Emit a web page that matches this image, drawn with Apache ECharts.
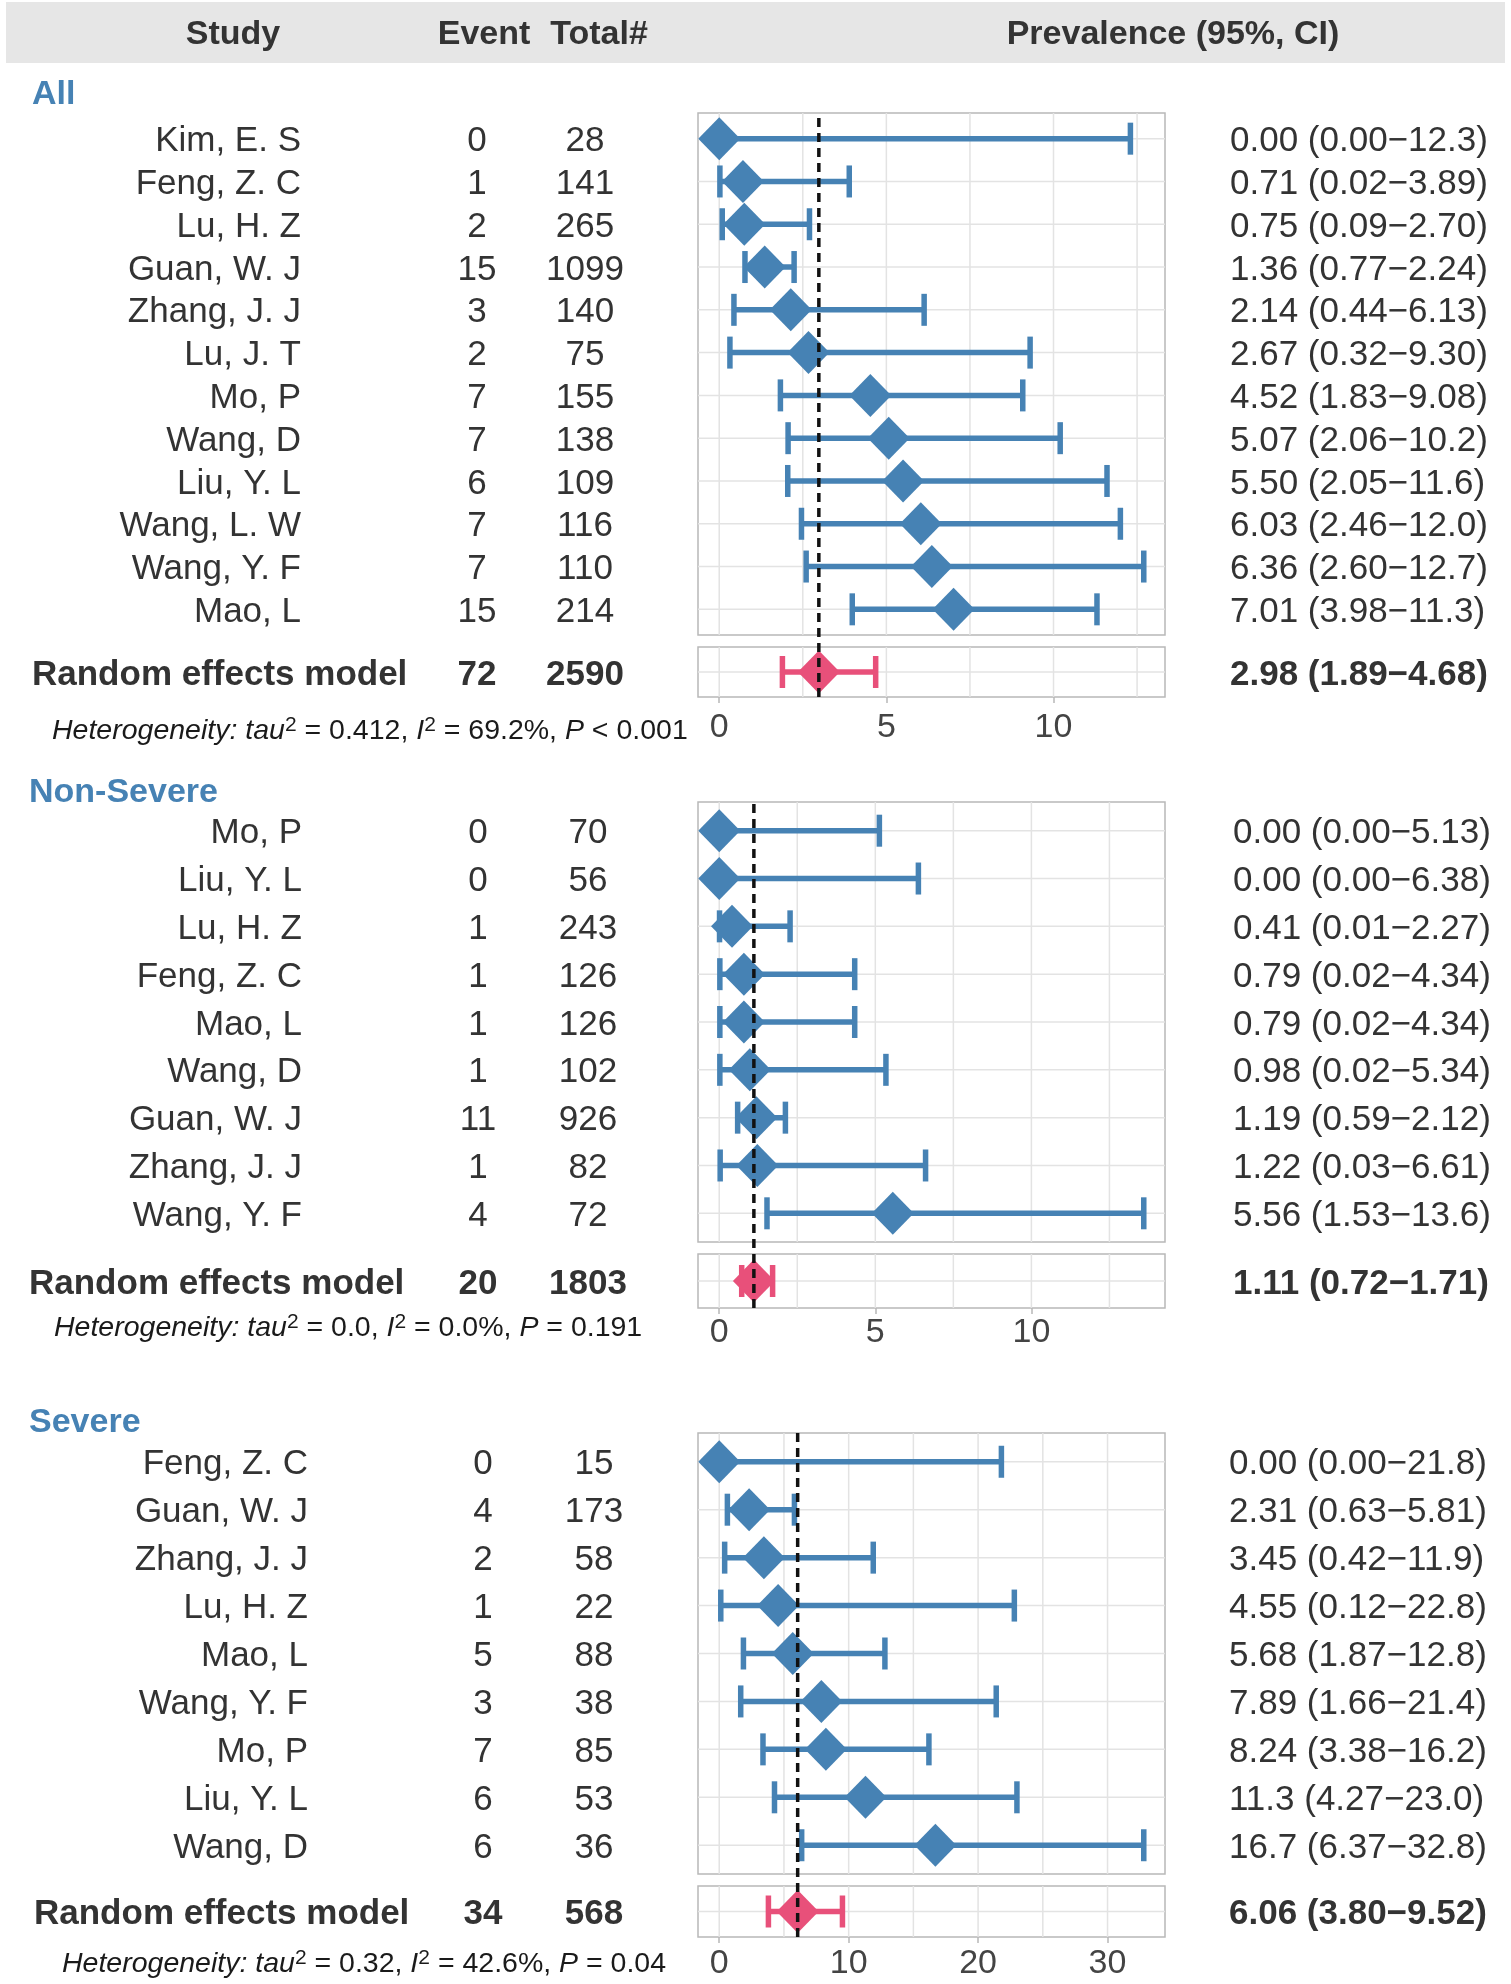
<!DOCTYPE html>
<html><head><meta charset="utf-8">
<script src="https://cdn.jsdelivr.net/npm/echarts@6/dist/echarts.min.js"></script>
<style>html,body{margin:0;padding:0;background:#fff}#c{width:1511px;height:1984px}</style>
</head><body><div id="c"></div>
<script>
// ---------------- DATA ----------------
const headers = ['Study', 'Event', 'Total#', 'Prevalence (95%, CI)'];
const groupNames = ['All', 'Non-Severe', 'Severe'];

const allStudies = ['Kim, E. S','Feng, Z. C','Lu, H. Z','Guan, W. J','Zhang, J. J','Lu, J. T','Mo, P','Wang, D','Liu, Y. L','Wang, L. W','Wang, Y. F','Mao, L'];
const allEvents  = [0,1,2,15,3,2,7,7,6,7,7,15];
const allTotals  = [28,141,265,1099,140,75,155,138,109,116,110,214];
const allPrev    = [0.00,0.71,0.75,1.36,2.14,2.67,4.52,5.07,5.50,6.03,6.36,7.01];
const allLower   = [0.00,0.02,0.09,0.77,0.44,0.32,1.83,2.06,2.05,2.46,2.60,3.98];
const allUpper   = [12.3,3.89,2.70,2.24,6.13,9.30,9.08,10.2,11.6,12.0,12.7,11.3];
const allPooled  = [2.98, 1.89, 4.68];
const allPooledN = [72, 2590];
const allHet     = ['0.412', '69.2%', '< 0.001'];
const allTicks   = [0, 5, 10];
const allGridX   = [0, 2.5, 5, 7.5, 10, 12.5];

const nsStudies = ['Mo, P','Liu, Y. L','Lu, H. Z','Feng, Z. C','Mao, L','Wang, D','Guan, W. J','Zhang, J. J','Wang, Y. F'];
const nsEvents  = [0,0,1,1,1,1,11,1,4];
const nsTotals  = [70,56,243,126,126,102,926,82,72];
const nsPrev    = [0.00,0.00,0.41,0.79,0.79,0.98,1.19,1.22,5.56];
const nsLower   = [0.00,0.00,0.01,0.02,0.02,0.02,0.59,0.03,1.53];
const nsUpper   = [5.13,6.38,2.27,4.34,4.34,5.34,2.12,6.61,13.6];
const nsPooled  = [1.11, 0.72, 1.71];
const nsPooledN = [20, 1803];
const nsHet     = ['0.0', '0.0%', '= 0.191'];
const nsTicks   = [0, 5, 10];
const nsGridX   = [0, 2.5, 5, 7.5, 10, 12.5];

const sevStudies = ['Feng, Z. C','Guan, W. J','Zhang, J. J','Lu, H. Z','Mao, L','Wang, Y. F','Mo, P','Liu, Y. L','Wang, D'];
const sevEvents  = [0,4,2,1,5,3,7,6,6];
const sevTotals  = [15,173,58,22,88,38,85,53,36];
const sevPrev    = [0.00,2.31,3.45,4.55,5.68,7.89,8.24,11.3,16.7];
const sevLower   = [0.00,0.63,0.42,0.12,1.87,1.66,3.38,4.27,6.37];
const sevUpper   = [21.8,5.81,11.9,22.8,12.8,21.4,16.2,23.0,32.8];
const sevPooled  = [6.06, 3.80, 9.52];
const sevPooledN = [34, 568];
const sevHet     = ['0.32', '42.6%', '= 0.04'];
const sevTicks   = [0, 10, 20, 30];
const sevGridX   = [0, 5, 10, 15, 20, 25, 30];

const groups = [
  {name: groupNames[0], studies: allStudies, events: allEvents, totals: allTotals, prev: allPrev, lower: allLower, upper: allUpper, pooled: allPooled, pooledN: allPooledN, het: allHet, ticks: allTicks, gridX: allGridX},
  {name: groupNames[1], studies: nsStudies, events: nsEvents, totals: nsTotals, prev: nsPrev, lower: nsLower, upper: nsUpper, pooled: nsPooled, pooledN: nsPooledN, het: nsHet, ticks: nsTicks, gridX: nsGridX},
  {name: groupNames[2], studies: sevStudies, events: sevEvents, totals: sevTotals, prev: sevPrev, lower: sevLower, upper: sevUpper, pooled: sevPooled, pooledN: sevPooledN, het: sevHet, ticks: sevTicks, gridX: sevGridX}
];

// ---------------- LAYOUT / STYLE ----------------
const FONT = '"Liberation Sans", Arial, Helvetica, sans-serif';
const BLUE = '#4682B4';
const PINK = '#E8507A';
const TXT = '#333333';
const TEXT_DY = 3;
const layouts = [
  {top:113, height:522, sumTop:647, sumHeight:50, nameRight:301, eventX:477, totalX:585, reLeft:32, prevLeft:1230, labelLeft:32, labelY:95, hetLeft:52, hetY:731, tickMargin:14},
  {top:802, height:440, sumTop:1254, sumHeight:54, nameRight:302, eventX:478, totalX:588, reLeft:29, prevLeft:1233, labelLeft:29, labelY:793, hetLeft:54, hetY:1328, tickMargin:8},
  {top:1433, height:441, sumTop:1886, sumHeight:51, nameRight:308, eventX:483, totalX:594, reLeft:34, prevLeft:1229, labelLeft:29, labelY:1423, hetLeft:62, hetY:1964, tickMargin:10}
];
const PANEL_LEFT = 698, PANEL_W = 467;

function fmt(v) { return v >= 10 ? v.toFixed(1) : v.toFixed(2); }
function ciText(p, l, u) { return fmt(p) + ' (' + fmt(l) + '\u2212' + fmt(u) + ')'; }

function errRender(color, cap, lw) {
  return function (params, api) {
    const a = api.coord([api.value(0), api.value(2)]);
    const b = api.coord([api.value(1), api.value(2)]);
    const st = {stroke: color, lineWidth: lw};
    return {type: 'group', children: [
      {type: 'line', shape: {x1: a[0], y1: a[1], x2: b[0], y2: b[1]}, style: st},
      {type: 'line', shape: {x1: a[0], y1: a[1] - cap / 2, x2: a[0], y2: a[1] + cap / 2}, style: st},
      {type: 'line', shape: {x1: b[0], y1: b[1] - cap / 2, x2: b[0], y2: b[1] + cap / 2}, style: st}
    ]};
  };
}
function vGridRender(params, api) {
  const cs = params.coordSys;
  const p = api.coord([api.value(0), api.value(1)]);
  return {type: 'line', shape: {x1: p[0], y1: cs.y, x2: p[0], y2: cs.y + cs.height}, style: {stroke: '#E3E3E3', lineWidth: 1.5}};
}
function hGridRender(params, api) {
  const cs = params.coordSys;
  const p = api.coord([api.value(0), api.value(1)]);
  return {type: 'line', shape: {x1: cs.x, y1: p[1], x2: cs.x + cs.width, y2: p[1]}, style: {stroke: '#E3E3E3', lineWidth: 1.5}};
}

const grid = [], xAxis = [], yAxis = [], series = [];
groups.forEach((g, gi) => {
  const L = layouts[gi];
  const n = g.studies.length;
  const dmax = Math.max.apply(null, g.upper), dmin = Math.min.apply(null, g.lower);
  const span = dmax - dmin;
  const xmin = dmin - 0.05 * span, xmax = dmax + 0.05 * span;
  const p = gi * 3, s = gi * 3 + 1, o = gi * 3 + 2;
  grid.push({left: PANEL_LEFT, width: PANEL_W, top: L.top, height: L.height, show: true, borderColor: '#B8B8B8', borderWidth: 1.5, backgroundColor: 'transparent'});
  grid.push({left: PANEL_LEFT, width: PANEL_W, top: L.sumTop, height: L.sumHeight, show: true, borderColor: '#B8B8B8', borderWidth: 1.5, backgroundColor: 'transparent'});
  grid.push({left: PANEL_LEFT, width: PANEL_W, top: L.top, height: L.sumTop + L.sumHeight - L.top, show: false});
  const hiddenX = {type: 'value', min: xmin, max: xmax, show: false};
  xAxis.push(Object.assign({gridIndex: p}, hiddenX));
  xAxis.push({gridIndex: s, type: 'value', min: xmin, max: xmax, show: true,
    axisLine: {show: false},
    axisTick: {show: true, customValues: g.ticks, length: 6, lineStyle: {color: '#B8B8B8', width: 1.5}},
    axisLabel: {show: true, customValues: g.ticks, margin: L.tickMargin, fontSize: 34, fontFamily: FONT, color: '#444'},
    splitLine: {show: false}});
  xAxis.push(Object.assign({gridIndex: o}, hiddenX));
  yAxis.push({gridIndex: p, type: 'value', min: 0.4, max: n + 0.6, inverse: true, show: false});
  yAxis.push({gridIndex: s, type: 'value', min: 0.4, max: 1.6, inverse: true, show: false});
  yAxis.push({gridIndex: o, type: 'value', min: 0, max: 1, show: false});
  const rows = g.studies.map((_, i) => i + 1);
  series.push({type: 'custom', xAxisIndex: p, yAxisIndex: p, renderItem: vGridRender, data: g.gridX.map(v => [v, 1]), silent: true, z: 1});
  series.push({type: 'custom', xAxisIndex: p, yAxisIndex: p, renderItem: hGridRender, data: rows.map(r => [0, r]), silent: true, z: 1});
  series.push({type: 'custom', xAxisIndex: s, yAxisIndex: s, renderItem: vGridRender, data: g.gridX.map(v => [v, 1]), silent: true, z: 1});
  series.push({type: 'custom', xAxisIndex: s, yAxisIndex: s, renderItem: hGridRender, data: [[0, 1]], silent: true, z: 1});
  series.push({type: 'custom', xAxisIndex: p, yAxisIndex: p, renderItem: errRender(BLUE, 32, 5.5),
    encode: {x: [0, 1], y: 2}, data: rows.map((r, i) => [g.lower[i], g.upper[i], r]), silent: true, z: 3});
  series.push({type: 'scatter', xAxisIndex: p, yAxisIndex: p, symbol: 'diamond', symbolSize: [42, 43],
    itemStyle: {color: BLUE, opacity: 1}, data: rows.map((r, i) => [g.prev[i], r]), silent: true, z: 4});
  series.push({type: 'custom', xAxisIndex: s, yAxisIndex: s, renderItem: errRender(PINK, 32, 5.5),
    encode: {x: [0, 1], y: 2}, data: [[g.pooled[1], g.pooled[2], 1]], silent: true, z: 3});
  series.push({type: 'scatter', xAxisIndex: s, yAxisIndex: s, symbol: 'diamond', symbolSize: [42, 43],
    itemStyle: {color: PINK, opacity: 1}, data: [[g.pooled[0], 1]], silent: true, z: 4});
  series.push({type: 'line', xAxisIndex: o, yAxisIndex: o, data: [[g.pooled[0], 0], [g.pooled[0], 1]],
    symbol: 'none', lineStyle: {color: '#111', width: 3.5, type: [9, 6]}, silent: true, z: 6, animation: false});
});

const chart = echarts.init(document.getElementById('c'));
chart.setOption({animation: false, backgroundColor: '#fff', grid, xAxis, yAxis, series});

// ---------------- TEXT TABLE ----------------
function txt(x, y, text, opt) {
  opt = opt || {};
  const align = opt.align || 'left';
  return {type: 'text', x: x, y: y, silent: true, z: 10, style: Object.assign({
    text: text, fill: opt.color || TXT, fontSize: opt.size || 35, fontFamily: FONT,
    fontWeight: opt.weight || 'normal', fontStyle: opt.style || 'normal',
    align: align, textAlign: align, verticalAlign: 'middle', textVerticalAlign: 'middle'
  }, opt.extra || {})};
}
const graphic = [];
graphic.push({type: 'rect', shape: {x: 6, y: 2, width: 1499, height: 61}, style: {fill: '#E6E6E6'}, silent: true, z: 0});
graphic.push(txt(233, 35, headers[0], {align: 'center', weight: 'bold', size: 34}));
graphic.push(txt(484, 35, headers[1], {align: 'center', weight: 'bold', size: 34}));
graphic.push(txt(599, 35, headers[2], {align: 'center', weight: 'bold', size: 34}));
graphic.push(txt(1173, 35, headers[3], {align: 'center', weight: 'bold', size: 34}));

groups.forEach((g, gi) => {
  const L = layouts[gi];
  const p = gi * 3, s = gi * 3 + 1;
  graphic.push(txt(L.labelLeft, L.labelY, g.name, {weight: 'bold', color: BLUE, size: 34}));
  g.studies.forEach((name, i) => {
    const y = chart.convertToPixel({xAxisIndex: p, yAxisIndex: p}, [0, i + 1])[1] + TEXT_DY;
    graphic.push(txt(L.nameRight, y, name, {align: 'right'}));
    graphic.push(txt(L.eventX, y, String(g.events[i]), {align: 'center'}));
    graphic.push(txt(L.totalX, y, String(g.totals[i]), {align: 'center'}));
    graphic.push(txt(L.prevLeft, y, ciText(g.prev[i], g.lower[i], g.upper[i])));
  });
  const ys = chart.convertToPixel({xAxisIndex: s, yAxisIndex: s}, [0, 1])[1] + TEXT_DY;
  graphic.push(txt(L.reLeft, ys, 'Random effects model', {weight: 'bold'}));
  graphic.push(txt(L.eventX, ys, String(g.pooledN[0]), {align: 'center', weight: 'bold'}));
  graphic.push(txt(L.totalX, ys, String(g.pooledN[1]), {align: 'center', weight: 'bold'}));
  graphic.push(txt(L.prevLeft, ys, ciText(g.pooled[0], g.pooled[1], g.pooled[2]), {weight: 'bold'}));
  const hetStr = '{i|Heterogeneity: tau}{s|2}{r| = ' + g.het[0] + ', }{i|I}{s|2}{r| = ' + g.het[1] + ', }{i|P}{r| ' + g.het[2] + '}';
  graphic.push({type: 'text', x: L.hetLeft, y: L.hetY, silent: true, z: 10, style: {
    text: hetStr, fill: '#1a1a1a', fontSize: 28.5, fontFamily: FONT, align: 'left', textAlign: 'left',
    verticalAlign: 'middle', textVerticalAlign: 'middle',
    rich: {
      i: {fontStyle: 'italic', fontSize: 28.5, fontFamily: FONT, fill: '#1a1a1a', lineHeight: 34},
      r: {fontSize: 28.5, fontFamily: FONT, fill: '#1a1a1a', lineHeight: 34},
      s: {fontSize: 21, fontFamily: FONT, fill: '#1a1a1a', lineHeight: 21, verticalAlign: 'top', padding: [1, 0, 0, 0]}
    }
  }});
});
chart.setOption({graphic: graphic});
</script></body></html>
